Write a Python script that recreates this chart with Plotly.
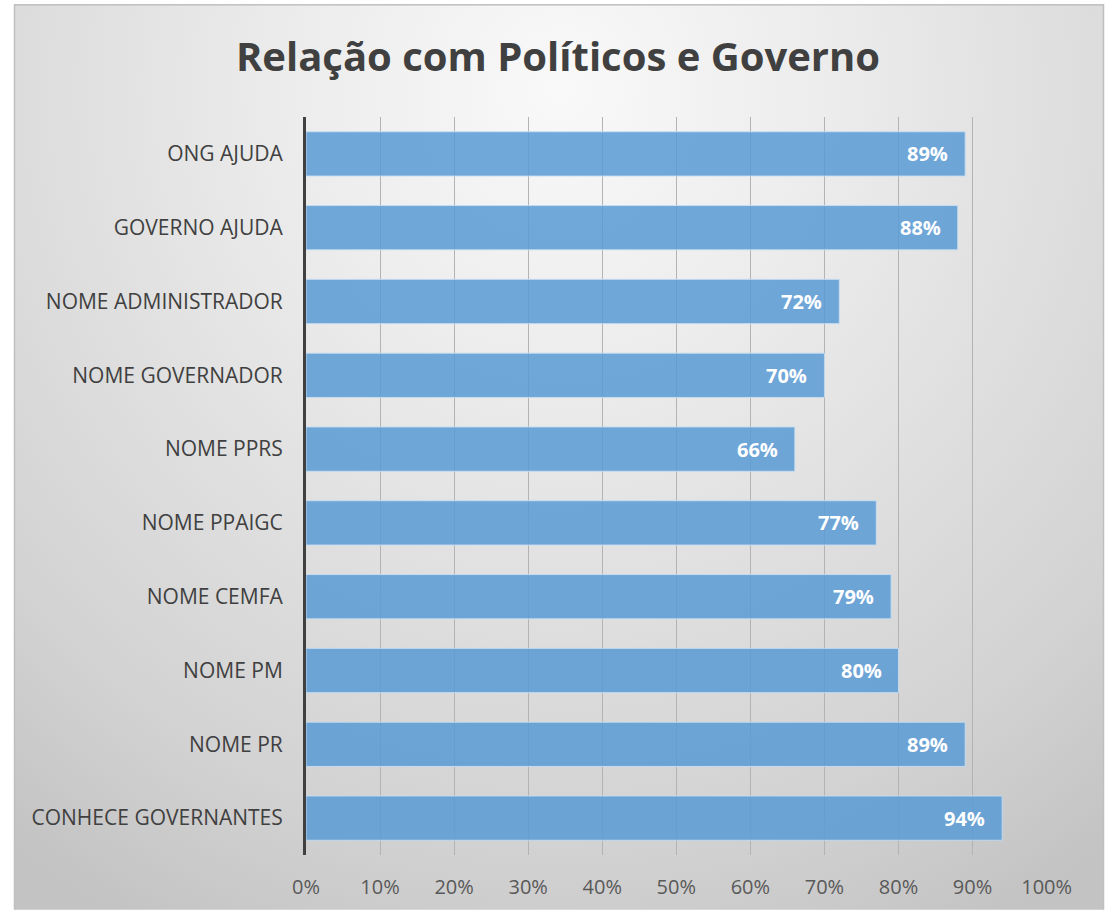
import base64
import plotly.graph_objects as go

# Survey results, listed top to bottom
categories = [
    "ONG AJUDA",
    "GOVERNO AJUDA",
    "NOME ADMINISTRADOR",
    "NOME GOVERNADOR",
    "NOME PPRS",
    "NOME PPAIGC",
    "NOME CEMFA",
    "NOME PM",
    "NOME PR",
    "CONHECE GOVERNANTES",
]
shares = [0.89, 0.88, 0.72, 0.70, 0.66, 0.77, 0.79, 0.80, 0.89, 0.94]
tick_values = [0, 0.1, 0.2, 0.3, 0.4, 0.5, 0.6, 0.7, 0.8, 0.9, 1.0]
tick_labels = ["0%", "10%", "20%", "30%", "40%", "50%", "60%", "70%", "80%", "90%", "100%"]
title_text = "Relação com Políticos e Governo"

W, H = 1116, 912
L, R, T, B = 306, 69, 117, 55
plot_w = W - L - R
plot_h = H - T - B

# Chart area: soft radial grey gradient with a thin grey frame on a white page
svg = f"""<svg xmlns="http://www.w3.org/2000/svg" width="{W}" height="{H}" viewBox="0 0 {W} {H}">
<defs>
<radialGradient id="bg" gradientUnits="userSpaceOnUse" cx="560" cy="90" r="1000"
 gradientTransform="translate(560 90) scale(0.9 0.95) translate(-560 -90)">
<stop offset="0" stop-color="#f9f9f9"/>
<stop offset="0.3" stop-color="#ececec"/>
<stop offset="0.8" stop-color="#d2d2d2"/>
<stop offset="1" stop-color="#c3c3c3"/>
</radialGradient>
</defs>
<rect x="0" y="0" width="{W}" height="{H}" fill="#ffffff"/>
<rect x="14.5" y="4.5" width="1089" height="920" fill="url(#bg)" stroke="#bfbfbf" stroke-width="1.5"/>
</svg>"""
bg_uri = "data:image/svg+xml;base64," + base64.b64encode(svg.encode("utf-8")).decode("ascii")

fig = go.Figure()
fig.add_trace(
    go.Bar(
        x=shares,
        y=categories,
        orientation="h",
        marker=dict(
            color="rgba(91,155,213,0.86)",
            line=dict(color="rgba(200,222,242,0.9)", width=1),
        ),
        hoverinfo="skip",
    )
)

# Value labels sit inside the end of each bar
for cat, val in zip(categories, shares):
    fig.add_annotation(
        x=val,
        y=cat,
        xref="x",
        yref="y",
        text=f"<b>{round(val * 100):d}%</b>",
        showarrow=False,
        xanchor="right",
        xshift=-15,
        font=dict(family="Open Sans", size=20, color="#ffffff"),
    )

fig.add_layout_image(
    dict(
        source=bg_uri,
        xref="paper",
        yref="paper",
        x=-L / plot_w,
        y=1 + T / plot_h,
        sizex=W / plot_w,
        sizey=H / plot_h,
        xanchor="left",
        yanchor="top",
        sizing="stretch",
        layer="below",
    )
)

fig.update_layout(
    width=W,
    height=H,
    margin=dict(l=L, r=R, t=T, b=B, pad=0),
    paper_bgcolor="#ffffff",
    plot_bgcolor="rgba(0,0,0,0)",
    showlegend=False,
    bargap=0.4,
    title=dict(
        text=f"<b>{title_text}</b>",
        x=0.5,
        xref="container",
        xanchor="center",
        y=1 - 57 / H,
        yanchor="middle",
        font=dict(family="Open Sans", size=40, color="#404040"),
    ),
    xaxis=dict(
        range=[0, 1.0005],
        tickvals=tick_values,
        ticktext=tick_labels,
        showgrid=True,
        gridcolor="#b3b3b3",
        gridwidth=1,
        zeroline=False,
        showline=False,
        ticks="",
        ticklabelstandoff=18,
        tickfont=dict(family="Open Sans", size=20, color="#595959"),
        fixedrange=True,
    ),
    yaxis=dict(
        autorange="reversed",
        showgrid=False,
        zeroline=False,
        showline=True,
        linecolor="#404040",
        linewidth=3,
        ticks="",
        ticklabelstandoff=16,
        tickfont=dict(family="Open Sans", size=21, color="#404040"),
        fixedrange=True,
    ),
)

fig.write_html("out.html")
